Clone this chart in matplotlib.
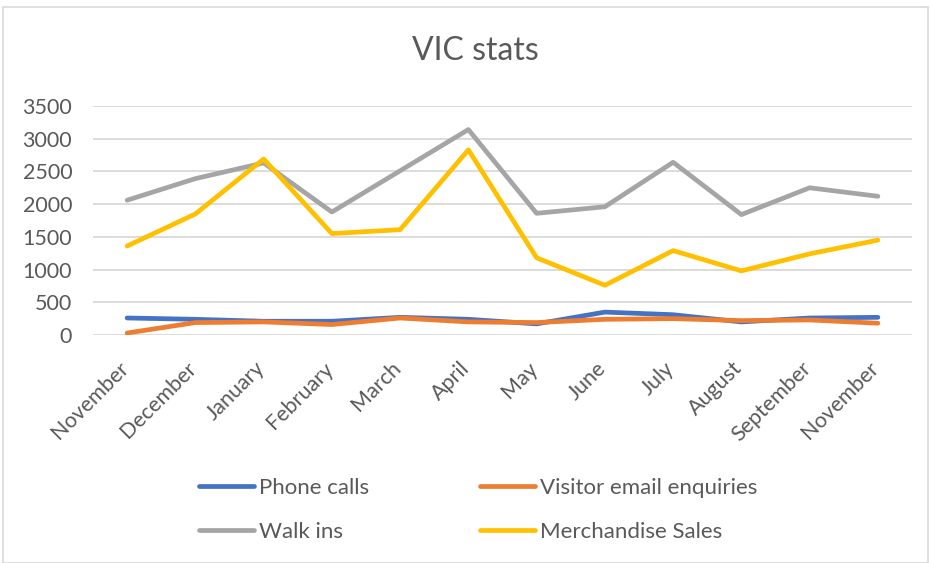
import matplotlib
matplotlib.use("Agg")
import matplotlib.pyplot as plt
from matplotlib.patches import Rectangle
from matplotlib.transforms import ScaledTranslation

months = ["November", "December", "January", "February", "March", "April",
          "May", "June", "July", "August", "September", "November"]
phone_calls = [260, 240, 210, 210, 270, 240, 170, 350, 310, 200, 260, 270]
email_enquiries = [30, 190, 200, 160, 260, 200, 190, 240, 250, 220, 230, 180]
walk_ins = [2060, 2390, 2630, 1880, 2510, 3140, 1860, 1960, 2640, 1840, 2250, 2120]
merch_sales = [1360, 1850, 2690, 1550, 1610, 2830, 1180, 760, 1290, 980, 1240, 1450]
yticks = [0, 500, 1000, 1500, 2000, 2500, 3000, 3500]

plt.rcParams['font.family'] = ['Lato', 'DejaVu Sans']
txt = '#595959'

fig = plt.figure(figsize=(9.31, 5.63), dpi=100)
fig.patches.append(Rectangle((3/931, 0), 1 - 6/931, 1 - 7/563, transform=fig.transFigure,
                             fill=False, edgecolor='#D9D9D9', linewidth=1.2))
ax = fig.add_axes([93/931, 1 - 335/563, (912 - 93)/931, (335 - 106)/563])

x = list(range(len(months)))
lw = 3.4
h1, = ax.plot(x, phone_calls, color='#4472C4', lw=lw, label='Phone calls', solid_capstyle='round')
h2, = ax.plot(x, email_enquiries, color='#ED7D31', lw=lw, label='Visitor email enquiries', solid_capstyle='round')
h3, = ax.plot(x, walk_ins, color='#A5A5A5', lw=lw, label='Walk ins', solid_capstyle='round')
h4, = ax.plot(x, merch_sales, color='#FFC000', lw=lw, label='Merchandise Sales', solid_capstyle='round')

ax.set_xlim(-0.5, len(months) - 0.5)
ax.set_ylim(0, 3500)
ax.set_yticks(yticks)
ax.set_yticklabels([str(v) for v in yticks])
ax.set_xticks(x)
ax.set_xticklabels(months, rotation=45, ha='right', rotation_mode='anchor')
ax.grid(axis='y', color='#D9D9D9', lw=1.3)
ax.set_axisbelow(True)
for s in ax.spines.values():
    s.set_visible(False)
ax.tick_params(axis='both', length=0, labelsize=15.5, colors=txt)
ax.tick_params(axis='y', pad=15)
ax.tick_params(axis='x', pad=8)
off = ScaledTranslation(-9/100, -12/100, fig.dpi_scale_trans)
for lab in ax.get_xticklabels():
    lab.set_transform(lab.get_transform() + off)

fig.text(475/931, 1 - 51/563, 'VIC stats', ha='center', va='center', fontsize=23, color=txt)

handles = [h1, h3, h2, h4]
leg = fig.legend(handles, [h.get_label() for h in handles], loc='center',
                 bbox_to_anchor=(478/931, 1 - 510/563), ncol=2, frameon=False,
                 fontsize=16, handlelength=2.5, handletextpad=0.2, columnspacing=5.0,
                 labelspacing=1.1, labelcolor=txt)

fig.savefig('out.png', dpi=100)
